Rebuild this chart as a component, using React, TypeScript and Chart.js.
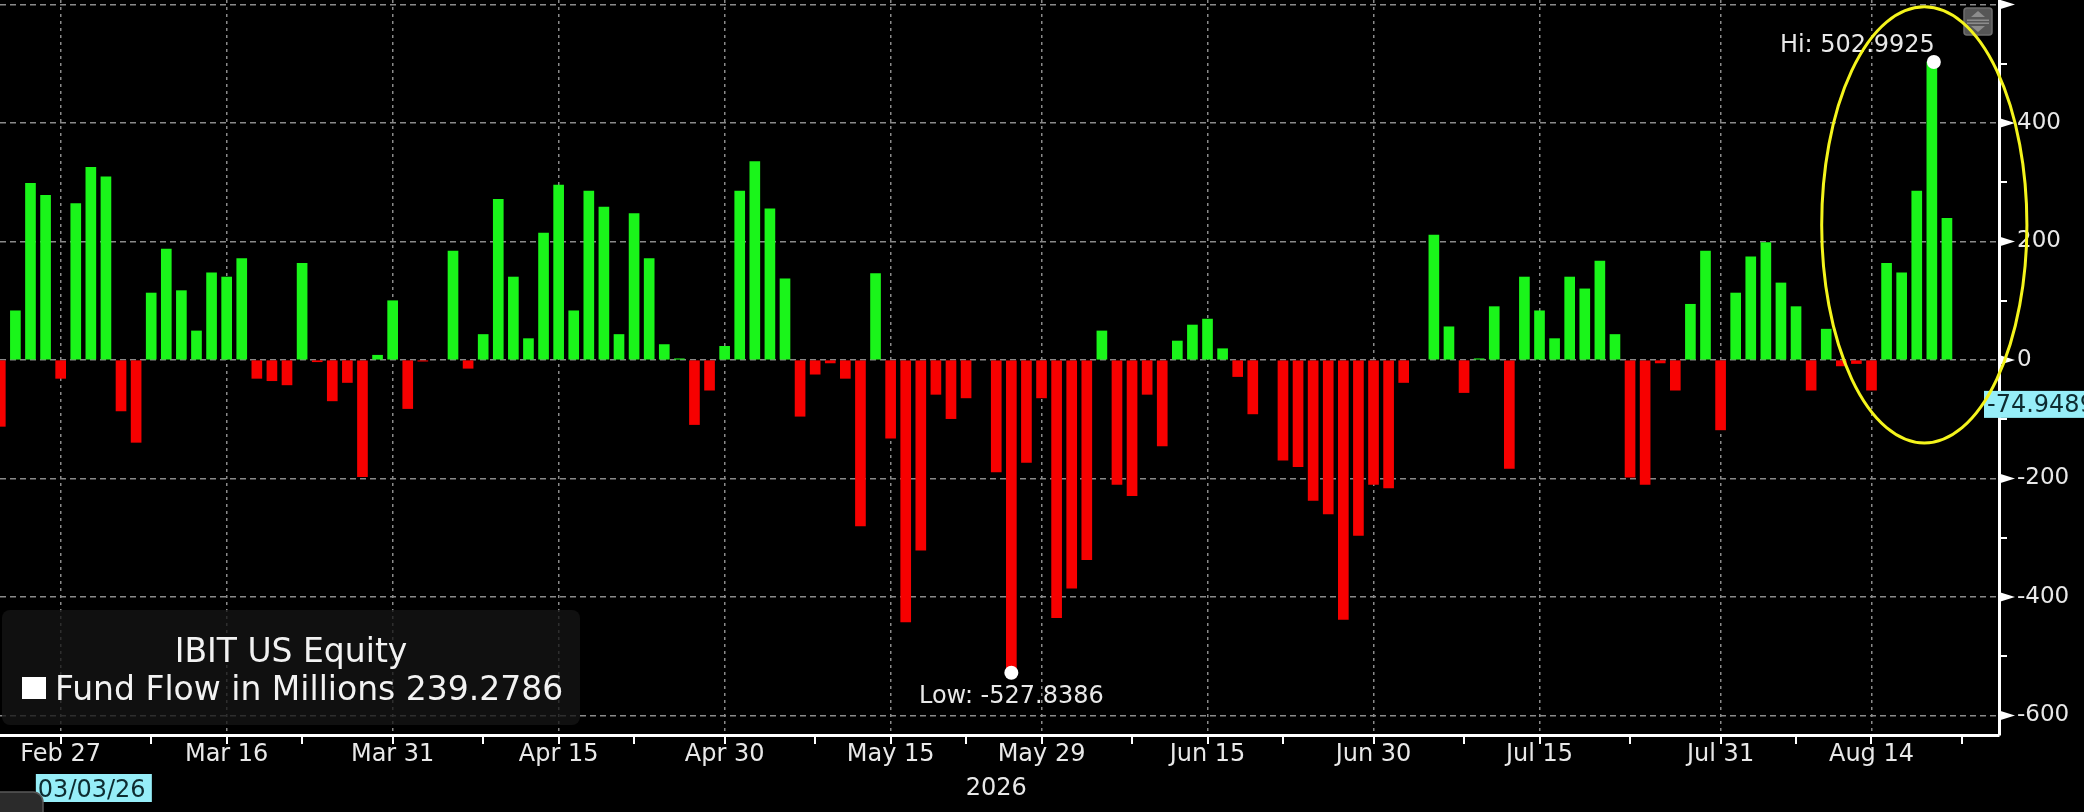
import React, { useEffect, useRef } from "react";
import { Chart, registerables } from "chart.js";

Chart.register(...registerables);

// Business days, Feb 23 2026 - Aug 21 2026 (holidays kept as empty slots)
const dates = [
  "2026-02-23", "2026-02-24", "2026-02-25", "2026-02-26", "2026-02-27",
  "2026-03-02", "2026-03-03", "2026-03-04", "2026-03-05", "2026-03-06",
  "2026-03-09", "2026-03-10", "2026-03-11", "2026-03-12", "2026-03-13",
  "2026-03-16", "2026-03-17", "2026-03-18", "2026-03-19", "2026-03-20",
  "2026-03-23", "2026-03-24", "2026-03-25", "2026-03-26", "2026-03-27",
  "2026-03-30", "2026-03-31", "2026-04-01", "2026-04-02", "2026-04-03",
  "2026-04-06", "2026-04-07", "2026-04-08", "2026-04-09", "2026-04-10",
  "2026-04-13", "2026-04-14", "2026-04-15", "2026-04-16", "2026-04-17",
  "2026-04-20", "2026-04-21", "2026-04-22", "2026-04-23", "2026-04-24",
  "2026-04-27", "2026-04-28", "2026-04-29", "2026-04-30", "2026-05-01",
  "2026-05-04", "2026-05-05", "2026-05-06", "2026-05-07", "2026-05-08",
  "2026-05-11", "2026-05-12", "2026-05-13", "2026-05-14", "2026-05-15",
  "2026-05-18", "2026-05-19", "2026-05-20", "2026-05-21", "2026-05-22",
  "2026-05-25", "2026-05-26", "2026-05-27", "2026-05-28", "2026-05-29",
  "2026-06-01", "2026-06-02", "2026-06-03", "2026-06-04", "2026-06-05",
  "2026-06-08", "2026-06-09", "2026-06-10", "2026-06-11", "2026-06-12",
  "2026-06-15", "2026-06-16", "2026-06-17", "2026-06-18", "2026-06-19",
  "2026-06-22", "2026-06-23", "2026-06-24", "2026-06-25", "2026-06-26",
  "2026-06-29", "2026-06-30", "2026-07-01", "2026-07-02", "2026-07-03",
  "2026-07-06", "2026-07-07", "2026-07-08", "2026-07-09", "2026-07-10",
  "2026-07-13", "2026-07-14", "2026-07-15", "2026-07-16", "2026-07-17",
  "2026-07-20", "2026-07-21", "2026-07-22", "2026-07-23", "2026-07-24",
  "2026-07-27", "2026-07-28", "2026-07-29", "2026-07-30", "2026-07-31",
  "2026-08-03", "2026-08-04", "2026-08-05", "2026-08-06", "2026-08-07",
  "2026-08-10", "2026-08-11", "2026-08-12", "2026-08-13", "2026-08-14",
  "2026-08-17", "2026-08-18", "2026-08-19", "2026-08-20", "2026-08-21",
];

// Fund flow in millions (one value per date above)
const flows: (number | null)[] = [
  -112, 83, 298, 278, -31,
  264, 325, 309, -86, -139,
  113, 187, 117, 49, 147,
  140, 171, -31, -35, -42,
  163, -3, -69, -38, -197,
  8, 100, -82, -2, null,
  184, -14, 43, 271, 140,
  36, 214, 295, 83, 285,
  258, 43, 247, 171, 26,
  2, -109, -51, 23, 285,
  335, 255, 137, -95, -24,
  -5, -31, -280, 146, -132,
  -442, -321, -58, -99, -64,
  null, -189, -527.8386, -173, -64,
  -435, -385, -337, 49, -210,
  -229, -58, -145, 32, 59,
  69, 19, -28, -91, null,
  -169, -180, -237, -260, -438,
  -296, -210, -216, -38, null,
  211, 56, -55, 2, 90,
  -183, 140, 83, 36, 140,
  120, 167, 43, -198, -210,
  -5, -51, 94, 184, -118,
  113, 174, 198, 130, 90,
  -51, 52, -10, -6, -51,
  163, 147, 285, 502.9925, 239.2786,
];

const xTickIdx = [4, 15, 26, 37, 48, 59, 69, 80, 91, 102, 114, 124];
const xTickLabels = [
  "Feb 27", "Mar 16", "Mar 31", "Apr 15", "Apr 30", "May 15",
  "May 29", "Jun 15", "Jun 30", "Jul 15", "Jul 31", "Aug 14",
];
const xMinorIdx = [10, 20, 32, 42, 54, 64, 75, 85, 97, 108, 119, 130];
const yTicks = [-600, -400, -200, 0, 200, 400, 600];
const yMinorTicks = [-500, -300, -100, 100, 300, 500];

const seriesTitle = "IBIT US Equity";
const seriesName = "Fund Flow in Millions";
const markerValue = -74.9489;
const cursorIdx = 6;
const cursorLabel = "03/03/26";
const yearIdx = 66;
const yearLabel = "2026";
// highlight ellipse (center index/value and radii in axis units)
const ellipseCenter = [127.5, 228];
const ellipseRadius = [6.8, 368];

const GREEN = "#1af51a";
const RED = "#f70000";
const GRID = "#8a8a8a";
const TEXT = "#e8e8e8";
const FONT = "DejaVu Sans";

const overlayPlugin = {
  id: "overlay",
  afterDraw(chart: any) {
    const { ctx, chartArea: ca, scales } = chart;
    const xs = scales.x;
    const ys = scales.y;
    ctx.save();

    // axis tick marks
    ctx.strokeStyle = "#ffffff";
    ctx.lineWidth = 2;
    for (const i of [...xTickIdx, ...xMinorIdx]) {
      const px = Math.round(xs.getPixelForValue(i));
      ctx.beginPath();
      ctx.moveTo(px, ca.bottom);
      ctx.lineTo(px, ca.bottom + 9);
      ctx.stroke();
    }
    for (const v of yMinorTicks) {
      const py = Math.round(ys.getPixelForValue(v));
      ctx.beginPath();
      ctx.moveTo(ca.right, py);
      ctx.lineTo(ca.right + 8, py);
      ctx.stroke();
    }
    ctx.fillStyle = "#ffffff";
    for (const v of yTicks) {
      const py = ys.getPixelForValue(v);
      ctx.beginPath();
      ctx.moveTo(ca.right, py - 5);
      ctx.lineTo(ca.right + 16, py);
      ctx.lineTo(ca.right, py + 5);
      ctx.closePath();
      ctx.fill();
    }

    // legend box
    ctx.fillStyle = "rgba(20,20,20,0.78)";
    ctx.beginPath();
    ctx.roundRect(2, 610, 578, 115, 8);
    ctx.fill();
    ctx.fillStyle = "#f2f2f2";
    ctx.font = `33px "${FONT}"`;
    ctx.textAlign = "center";
    ctx.textBaseline = "alphabetic";
    ctx.fillText(seriesTitle, 291, 662);
    ctx.fillStyle = "#ffffff";
    ctx.fillRect(22, 677, 24, 22);
    ctx.fillStyle = "#f2f2f2";
    ctx.textAlign = "left";
    const last = flows[flows.length - 1] as number;
    ctx.fillText(`${seriesName} ${last.toFixed(4)}`, 55, 700);

    // hi / low markers
    let hi = 0;
    let lo = 0;
    flows.forEach((v, i) => {
      if (v === null) return;
      if (v > (flows[hi] as number)) hi = i;
      if (v < (flows[lo] as number)) lo = i;
    });
    ctx.font = `24px "${FONT}"`;
    const hx = xs.getPixelForValue(hi);
    const hy = ys.getPixelForValue(flows[hi]);
    const lx = xs.getPixelForValue(lo);
    const ly = ys.getPixelForValue(flows[lo]);
    ctx.fillStyle = "#ffffff";
    ctx.beginPath();
    ctx.arc(hx + 2, hy, 7, 0, Math.PI * 2);
    ctx.fill();
    ctx.beginPath();
    ctx.arc(lx, ly, 7, 0, Math.PI * 2);
    ctx.fill();
    ctx.fillStyle = TEXT;
    ctx.textAlign = "right";
    ctx.fillText(`Hi: ${(flows[hi] as number).toFixed(4)}`, hx + 3, hy - 10);
    ctx.textAlign = "center";
    ctx.fillText(`Low: ${(flows[lo] as number).toFixed(4)}`, lx, ly + 30);

    // last-value marker on the axis
    const my = ys.getPixelForValue(markerValue);
    ctx.fillStyle = "#96eef8";
    ctx.fillRect(ca.right - 15, my - 13.5, 120, 27);
    ctx.fillStyle = "#0d2b30";
    ctx.textAlign = "left";
    ctx.textBaseline = "middle";
    ctx.fillText(markerValue.toFixed(4), ca.right - 12, my + 1);

    // cursor date box and year label
    const cx = xs.getPixelForValue(cursorIdx);
    ctx.fillStyle = "#96eef8";
    ctx.fillRect(cx - 55, 774, 116, 28);
    ctx.fillStyle = "#0d2b30";
    ctx.textBaseline = "alphabetic";
    ctx.textAlign = "left";
    ctx.fillText(cursorLabel, cx - 53, 797);
    ctx.fillStyle = TEXT;
    ctx.textAlign = "center";
    ctx.fillText(yearLabel, xs.getPixelForValue(yearIdx), 795);

    // bottom-left UI knob
    ctx.fillStyle = "#2b2b2b";
    ctx.strokeStyle = "#5a5a5a";
    ctx.lineWidth = 1.5;
    ctx.beginPath();
    ctx.roundRect(-12, 792, 55, 40, 10);
    ctx.fill();
    ctx.stroke();

    // scroll button top-right
    ctx.fillStyle = "#565656";
    ctx.strokeStyle = "#6e6e6e";
    ctx.beginPath();
    ctx.roundRect(1964, 8, 28, 27, 3);
    ctx.fill();
    ctx.stroke();
    ctx.fillStyle = "#8c8c8c";
    ctx.beginPath();
    ctx.moveTo(1978, 11);
    ctx.lineTo(1971, 17);
    ctx.lineTo(1985, 17);
    ctx.closePath();
    ctx.fill();
    ctx.beginPath();
    ctx.moveTo(1971, 26);
    ctx.lineTo(1985, 26);
    ctx.lineTo(1978, 32);
    ctx.closePath();
    ctx.fill();
    ctx.fillRect(1967, 19.5, 22, 1.5);
    ctx.fillRect(1967, 22.5, 22, 1.5);

    // highlight ellipse
    const ex = xs.getPixelForValue(ellipseCenter[0]);
    const ey = ys.getPixelForValue(ellipseCenter[1]);
    const rx = xs.getPixelForValue(ellipseCenter[0] + ellipseRadius[0]) - ex;
    const ry = ey - ys.getPixelForValue(ellipseCenter[1] + ellipseRadius[1]);
    ctx.strokeStyle = "#f4f41c";
    ctx.lineWidth = 3;
    ctx.beginPath();
    ctx.ellipse(ex, ey, rx, ry, 0, 0, Math.PI * 2);
    ctx.stroke();

    ctx.restore();
  },
};

export default function App() {
  const ref = useRef<HTMLCanvasElement>(null);

  useEffect(() => {
    const canvas = ref.current;
    if (!canvas) return;
    const points = flows.map((v, i) => ({ x: i, y: v }));
    const colors = flows.map((v) => ((v ?? 0) >= 0 ? GREEN : RED));
    const chart = new Chart(canvas, {
      type: "bar",
      data: {
        labels: dates,
        datasets: [
          {
            label: seriesName,
            data: points as any,
            backgroundColor: colors,
            borderWidth: 0,
            barThickness: 10,
          },
        ],
      },
      options: {
        animation: false,
        responsive: false,
        devicePixelRatio: 1,
        events: [],
        layout: { padding: 0 },
        plugins: { legend: { display: false }, tooltip: { enabled: false } },
        scales: {
          x: {
            type: "linear",
            offset: false,
            min: -0.02,
            max: 132.45,
            afterBuildTicks: (s: any) => {
              s.ticks = xTickIdx.map((v) => ({ value: v }));
            },
            afterFit: (s: any) => {
              s.height = 77;
              s.paddingLeft = 0;
              s.paddingRight = 0;
            },
            ticks: {
              autoSkip: false,
              maxRotation: 0,
              minRotation: 0,
              padding: 5,
              color: TEXT,
              font: { family: FONT, size: 24 },
              callback: (v: any) => xTickLabels[xTickIdx.indexOf(v)] ?? "",
            },
            grid: { color: GRID, lineWidth: 1.5, drawTicks: false, offset: false },
            border: { display: true, color: "#ffffff", width: 3, dash: [3, 4] },
          },
          y: {
            type: "linear",
            position: "right",
            min: -633,
            max: 607.6,
            afterBuildTicks: (s: any) => {
              s.ticks = yTicks.map((v) => ({ value: v }));
            },
            afterFit: (s: any) => {
              s.width = 85;
              s.paddingTop = 0;
              s.paddingBottom = 0;
            },
            ticks: {
              padding: 18,
              color: TEXT,
              font: { family: FONT, size: 23 },
              callback: (v: any) => (v >= 600 ? "" : String(v)),
            },
            grid: { color: GRID, lineWidth: 1.5, drawTicks: false },
            border: { display: true, color: "#ffffff", width: 3, dash: [6, 4] },
          },
        },
      },
      plugins: [overlayPlugin],
    });
    return () => chart.destroy();
  }, []);

  return (
    <div
      style={{
        position: "fixed",
        left: 0,
        top: 0,
        width: 2084,
        height: 812,
        background: "#000",
      }}
    >
      <canvas
        ref={ref}
        width={2084}
        height={812}
        style={{ display: "block", width: 2084, height: 812 }}
      />
    </div>
  );
}
